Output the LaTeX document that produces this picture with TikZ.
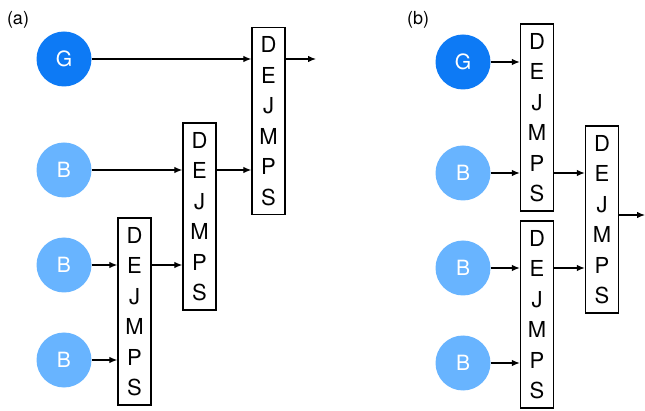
\documentclass[tikz,border=0pt]{standalone}
\usepackage{fontspec}
\setmainfont{TeX Gyre Heros}
\usetikzlibrary{arrows.meta}
\definecolor{gblue}{RGB}{13,122,245}
\definecolor{bblue}{RGB}{104,180,255}
\tikzset{
  unit/.style={circle, minimum size=55pt, inner sep=0pt, text=white,
    font=\fontsize{21}{21}\selectfont},
  gunit/.style={unit, fill=gblue},
  bunit/.style={unit, fill=bblue},
  stack/.style={draw, line width=1.4pt, minimum width=33pt, minimum height=187pt,
    inner sep=0pt, align=center, font=\fontsize{22}{30.5}\selectfont},
  arr/.style={line width=1.2pt, -{Latex[length=8pt,width=6.5pt]}},
  tag/.style={font=\fontsize{18}{18}\selectfont, inner sep=0pt}
}
\begin{document}
\begin{tikzpicture}[x=1pt, y=-1pt]
\useasboundingbox (0,0) rectangle (645,411);

% panel (a): sequential chain
\node[tag] (taga) at (18,20) {(a)};
\node[gunit] (Ga)  at (64,59)  {G};
\node[bunit] (Ba1) at (64,170) {B};
\node[bunit] (Ba2) at (64,265) {B};
\node[bunit] (Ba3) at (64,360) {B};
\node[stack] (a1) at (134.5,311.5) {D\\E\\J\\M\\P\\S};
\node[stack] (a2) at (199.5,216.5) {D\\E\\J\\M\\P\\S};
\node[stack] (a3) at (268.5,121)   {D\\E\\J\\M\\P\\S};
\coordinate (outa) at (316,59);

\draw[arr] (Ga)  -- (Ga -| a3.west);
\draw[arr] (Ba1) -- (Ba1 -| a2.west);
\draw[arr] (Ba2) -- (Ba2 -| a1.west);
\draw[arr] (Ba3) -- (Ba3 -| a1.west);
\draw[arr] (a1.east |- Ba2) -- (a2.west |- Ba2);
\draw[arr] (a2.east |- Ba1) -- (a3.west |- Ba1);
\draw[arr] (a3.east |- outa) -- (outa);

% panel (b): balanced tree
\node[tag] (tagb) at (418,20) {(b)};
\node[gunit] (Gb)  at (463,62)  {G};
\node[bunit] (Bb1) at (463,173) {B};
\node[bunit] (Bb2) at (463,268) {B};
\node[bunit] (Bb3) at (463,363) {B};
\node[stack] (b1) at (537,117.5) {D\\E\\J\\M\\P\\S};
\node[stack] (b2) at (537,314.5) {D\\E\\J\\M\\P\\S};
\node[stack] (b3) at (602,219.5) {D\\E\\J\\M\\P\\S};
\coordinate (outb) at (645,215);

\draw[arr] (Gb)  -- (Gb -| b1.west);
\draw[arr] (Bb1) -- (Bb1 -| b1.west);
\draw[arr] (Bb2) -- (Bb2 -| b2.west);
\draw[arr] (Bb3) -- (Bb3 -| b2.west);
\draw[arr] (b1.east |- Bb1) -- (b3.west |- Bb1);
\draw[arr] (b2.east |- Bb2) -- (b3.west |- Bb2);
\draw[arr] (b3.east |- outb) -- (outb);
\end{tikzpicture}
\end{document}
